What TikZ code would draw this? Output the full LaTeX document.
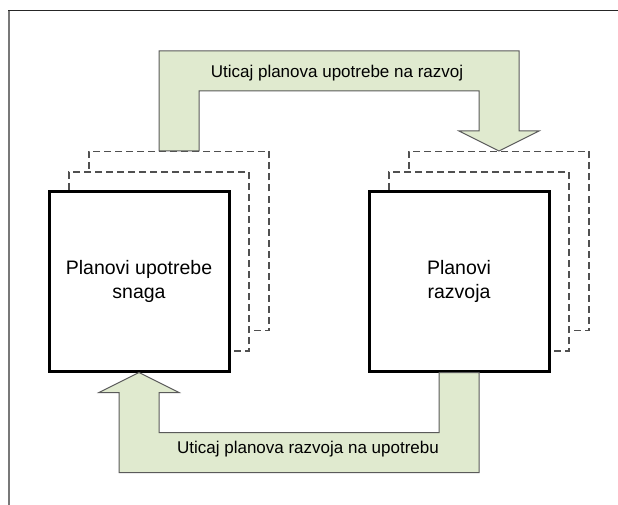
\documentclass[tikz,border=0pt]{standalone}
\usepackage{fontspec}
\setmainfont{Liberation Sans}
\usetikzlibrary{calc}

\definecolor{flowfill}{RGB}{224,234,207}
\definecolor{flowline}{RGB}{90,90,90}
\definecolor{copyline}{RGB}{80,80,80}
\definecolor{framegray}{RGB}{120,120,120}

\tikzset{
  planbox/.style={draw=black, line width=3pt, fill=white,
    minimum width=180pt, minimum height=179pt, inner sep=0pt,
    align=center, font=\fontsize{19.5}{23.5}\selectfont},
  plancopy/.style={draw=copyline, line width=1.1pt, dash pattern=on 7pt off 4pt,
    fill=white, minimum width=180pt, minimum height=179pt, inner sep=0pt},
  fatflow/.style={draw=flowline, line width=1pt, fill=flowfill, line join=miter},
  flowlabel/.style={font=\fontsize{17}{20}\selectfont, inner sep=0pt}
}

\begin{document}
\begin{tikzpicture}[x=1pt, y=-1pt]
  \useasboundingbox (0,0) rectangle (618,505);

  % outer frame (left and top edges only)
  \draw[framegray, line width=1.4pt] (9,505) -- (9,11);
  \draw[black!85, line width=1pt] (8.3,11) -- (618,11);

  % stacked copies behind each plan
  \node[plancopy] (lback) at (179,241) {};
  \node[plancopy] (rback) at (499,241) {};
  \node[plancopy] (lmid)  at (159,261.5) {};
  \node[plancopy] (rmid)  at (479,261.5) {};

  % the two plans
  \node[planbox] (lmain) at (139,281.5) {Planovi upotrebe\\snaga};
  \node[planbox] (rmain) at (459,281.5) {Planovi\\razvoja};

  % influence of usage plans on development
  \draw[fatflow]
    ($(lback.north)+(-20,0)$) -- ($(lback.north)+(-20,-100)$)
    -- ($(rback.north)+(20,-100)$) -- ($(rback.north)+(20,-20)$)
    -- ($(rback.north)+(40,-20)$) -- (rback.north)
    -- ($(rback.north)+(-40,-20)$) -- ($(rback.north)+(-20,-20)$)
    -- ($(rback.north)+(-20,-60)$) -- ($(lback.north)+(20,-60)$)
    -- ($(lback.north)+(20,0)$) -- cycle;
  \node[flowlabel] (topflow) at ($($(lback.north)!0.5!(rback.north)$)+(-2,-78)$)
    {Uticaj planova upotrebe na razvoj};

  % influence of development plans on usage
  \draw[fatflow]
    ($(rmain.south)+(-20,0)$) -- ($(rmain.south)+(20,0)$)
    -- ($(rmain.south)+(20,100)$) -- ($(lmain.south)+(-20,100)$)
    -- ($(lmain.south)+(-20,20)$) -- ($(lmain.south)+(-40,20)$)
    -- (lmain.south)
    -- ($(lmain.south)+(40,20)$) -- ($(lmain.south)+(20,20)$)
    -- ($(lmain.south)+(20,60)$) -- ($(rmain.south)+(-20,60)$)
    -- cycle;
  \node[flowlabel] (bottomflow) at ($($(lmain.south)!0.5!(rmain.south)$)+(9,77)$)
    {Uticaj planova razvoja na upotrebu};
\end{tikzpicture}
\end{document}
